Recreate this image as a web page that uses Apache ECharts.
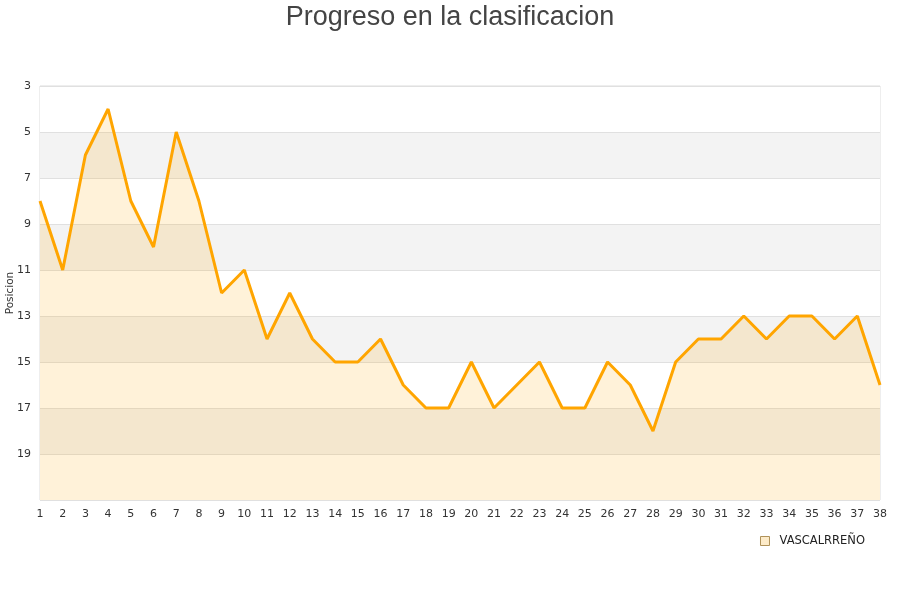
<!DOCTYPE html>
<html><head><meta charset="utf-8">
<script src="https://cdn.jsdelivr.net/npm/echarts@6/dist/echarts.min.js"></script>
<style>html,body{margin:0;padding:0;background:#fff}#c{width:900px;height:600px}</style>
</head><body><div id="c"></div>
<script>
const jornadas = [1,2,3,4,5,6,7,8,9,10,11,12,13,14,15,16,17,18,19,20,21,22,23,24,25,26,27,28,29,30,31,32,33,34,35,36,37,38];
const posiciones = [8,11,6,4,8,10,5,8,12,11,14,12,14,15,15,14,16,17,17,15,17,16,15,17,17,15,16,18,15,14,14,13,14,13,13,14,13,16];
const seriesName = 'VASCALRREÑO';
const chart = echarts.init(document.getElementById('c'));
chart.setOption({
  animation: false,
  title: {text: 'Progreso en la clasificacion', left: 'center', top: -1,
    textStyle: {fontFamily: 'Liberation Sans, Arial, sans-serif', fontSize: 27, fontWeight: 'normal', color: '#444'}},
  grid: {left: 40, right: 20, top: 86, bottom: 100, containLabel: false, outerBoundsMode: 'none',
    show: true, borderColor: '#ddd', borderWidth: 1, backgroundColor: 'transparent'},
  legend: {right: 30, top: 530, itemWidth: 9, itemHeight: 9, icon: 'rect', itemGap: 10,
    textStyle: {fontFamily: 'DejaVu Sans, sans-serif', fontSize: 11.5, color: '#222', padding: [0, 0, 0, 5]},
    data: [{name: seriesName, itemStyle: {color: '#fdebc9', borderColor: '#b0925a', borderWidth: 1}}]},
  xAxis: {type: 'category', data: jornadas, boundaryGap: false,
    axisLine: {show: false}, axisTick: {show: false},
    axisLabel: {interval: 0, margin: 9, fontFamily: 'DejaVu Sans, sans-serif', fontSize: 11, color: '#333'},
    splitLine: {show: false}},
  yAxis: {type: 'value', inverse: true, min: 3, max: 21, interval: 2,
    name: 'Posicion', nameLocation: 'middle', nameGap: 24, nameRotate: 90, nameMoveOverlap: false,
    nameTextStyle: {fontFamily: 'DejaVu Sans, sans-serif', fontSize: 10.5, color: '#333'},
    axisLine: {show: false}, axisTick: {show: false},
    axisLabel: {margin: 9, fontFamily: 'DejaVu Sans, sans-serif', fontSize: 11, color: '#333',
      formatter: v => v === 21 ? '' : String(v)},
    splitLine: {show: true, lineStyle: {color: '#e0e0e0', width: 1}},
    splitArea: {show: true, areaStyle: {color: ['#ffffff', '#f3f3f3']}}},
  series: [{name: seriesName, type: 'line', data: posiciones, symbol: 'none',
    lineStyle: {color: '#ffa500', width: 3}, itemStyle: {color: '#ffa500'},
    areaStyle: {color: 'rgba(255,165,0,0.21)', origin: 'end'}}]
});
</script></body></html>
